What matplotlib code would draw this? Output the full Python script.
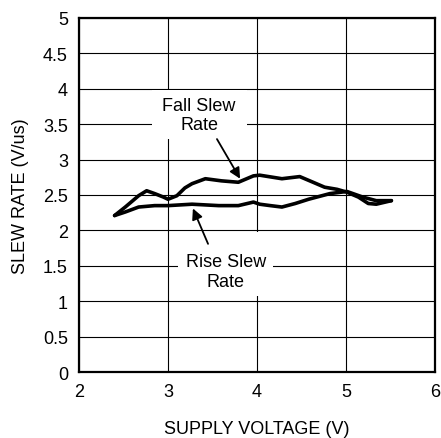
import matplotlib
matplotlib.use('Agg')
import matplotlib.pyplot as plt
from matplotlib.patches import Rectangle

plt.rcParams['font.family'] = ['Liberation Sans', 'DejaVu Sans']

# values
fall_v = [2.40, 2.52, 2.67, 2.76, 2.85, 2.95, 3.00, 3.10, 3.19, 3.27, 3.42, 3.60, 3.79, 3.96,
          4.03, 4.28, 4.48, 4.63, 4.76, 4.90, 5.01, 5.14, 5.25, 5.34, 5.51]
fall_sr = [2.21, 2.33, 2.49, 2.56, 2.52, 2.47, 2.44, 2.49, 2.60, 2.66, 2.73, 2.70, 2.68, 2.77,
           2.78, 2.73, 2.76, 2.68, 2.61, 2.58, 2.54, 2.47, 2.38, 2.37, 2.42]

rise_v = [2.40, 2.52, 2.67, 2.85, 3.00, 3.27, 3.42, 3.57, 3.79, 3.96,
          4.03, 4.15, 4.28, 4.43, 4.58, 4.82, 5.01, 5.19, 5.34, 5.51]
rise_sr = [2.21, 2.26, 2.33, 2.35, 2.35, 2.37, 2.36, 2.35, 2.35, 2.40,
           2.37, 2.35, 2.33, 2.38, 2.44, 2.52, 2.55, 2.47, 2.42, 2.42]

x_ticks = [2, 3, 4, 5, 6]
y_ticks = [0, 0.5, 1, 1.5, 2, 2.5, 3, 3.5, 4, 4.5, 5]
y_tick_labels = ['0', '0.5', '1', '1.5', '2', '2.5', '3', '3.5', '4', '4.5', '5']

fig = plt.figure(figsize=(4.41, 4.39), dpi=100)
ax = fig.add_axes([79 / 441, 1 - 373 / 439, 356 / 441, 354 / 439])

ax.set_xlim(2, 6)
ax.set_ylim(0, 5)
ax.set_xticks(x_ticks)
ax.set_yticks(y_ticks)
ax.set_yticklabels(y_tick_labels)
ax.tick_params(length=0, labelsize=13, pad=8)
ax.set_axisbelow(True)
ax.grid(True, color='black', linewidth=0.8)
for s in ax.spines.values():
    s.set_linewidth(1.6)

# white boxes behind the labels, cutting the grid
ax.add_patch(Rectangle((2.82, 3.29), 1.07, 0.69, facecolor='white', edgecolor='none', zorder=1))
ax.add_patch(Rectangle((3.11, 1.07), 1.07, 0.91, facecolor='white', edgecolor='none', zorder=1))

ax.plot(fall_v, fall_sr, color='black', linewidth=2.6, solid_joinstyle='round',
        solid_capstyle='round', zorder=3)
ax.plot(rise_v, rise_sr, color='black', linewidth=2.6, solid_joinstyle='round',
        solid_capstyle='round', zorder=3)

arrow = dict(arrowstyle='-|>', color='black', lw=1.3, mutation_scale=16, shrinkA=0, shrinkB=0)
ax.text(3.35, 3.63, 'Fall Slew\nRate', ha='center', va='center', fontsize=13,
        linespacing=1.2, zorder=4)
ax.annotate('', xy=(3.81, 2.73), xytext=(3.55, 3.29), arrowprops=arrow, zorder=4)
ax.text(3.65, 1.42, 'Rise Slew\nRate', ha='center', va='center', fontsize=13,
        linespacing=1.2, zorder=4)
ax.annotate('', xy=(3.28, 2.31), xytext=(3.45, 1.81), arrowprops=arrow, zorder=4)

ax.set_xlabel('SUPPLY VOLTAGE (V)', fontsize=13, labelpad=14)
ax.set_ylabel('SLEW RATE (V/us)', fontsize=13, labelpad=10)

fig.savefig('out.png', dpi=100)
